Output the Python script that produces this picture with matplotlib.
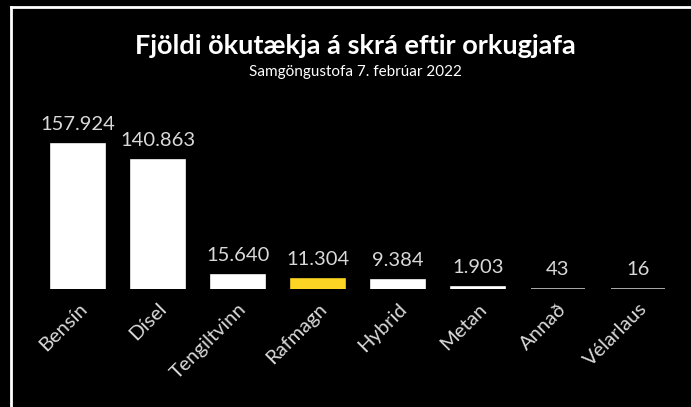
import matplotlib
matplotlib.use("Agg")
import matplotlib.pyplot as plt
from matplotlib.lines import Line2D

plt.rcParams['font.family'] = ['Lato', 'DejaVu Sans']

categories = ["Bensín", "Dísel", "Tengiltvinn", "Rafmagn", "Hybrid", "Metan", "Annað", "Vélarlaus"]
values = [157924, 140863, 15640, 11304, 9384, 1903, 43, 16]
colors = ["white", "white", "white", "#FBD424", "white", "white", "#c8c8c8", "#c8c8c8"]

fig = plt.figure(figsize=(6.91, 4.07), dpi=100, facecolor="black")
ax = fig.add_axes([38/691, (407-289)/407, 640/691, 189/407])
ax.set_facecolor("black")

x = list(range(len(categories)))
ax.bar(x, values, width=0.675, color=colors, edgecolor=colors, linewidth=1.2)
ax.set_xlim(-0.5, len(categories) - 0.5)
ax.set_ylim(0, 157924 * 189 / 145)

for xi, v in zip(x, values):
    ax.annotate(f"{v:,}".replace(",", "."), (xi, v), xytext=(0, 8), textcoords="offset points",
                ha="center", va="bottom", color="#d9d9d9", fontsize=14.5)

ax.set_xticks(x)
ax.set_xticklabels(categories, rotation=45, ha="right", rotation_mode="anchor",
                   color="#d9d9d9", fontsize=14.5)
ax.tick_params(axis="x", length=0, pad=8)
ax.set_yticks([])
for s in ax.spines.values():
    s.set_visible(False)

fig.text(0.514, 0.888, "Fjöldi ökutækja á skrá eftir orkugjafa", ha="center", va="center",
         color="white", fontsize=19.5, fontweight="bold")
fig.text(0.514, 0.823, "Samgöngustofa 7. febrúar 2022", ha="center", va="center",
         color="white", fontsize=11)

# frame lines
fig.add_artist(Line2D([11/691, 1], [1 - 7/407, 1 - 7/407], transform=fig.transFigure, color="white", lw=2))
fig.add_artist(Line2D([11/691, 11/691], [0, 1 - 7/407], transform=fig.transFigure, color="white", lw=2))

fig.savefig("out.png", dpi=100, facecolor="black")
